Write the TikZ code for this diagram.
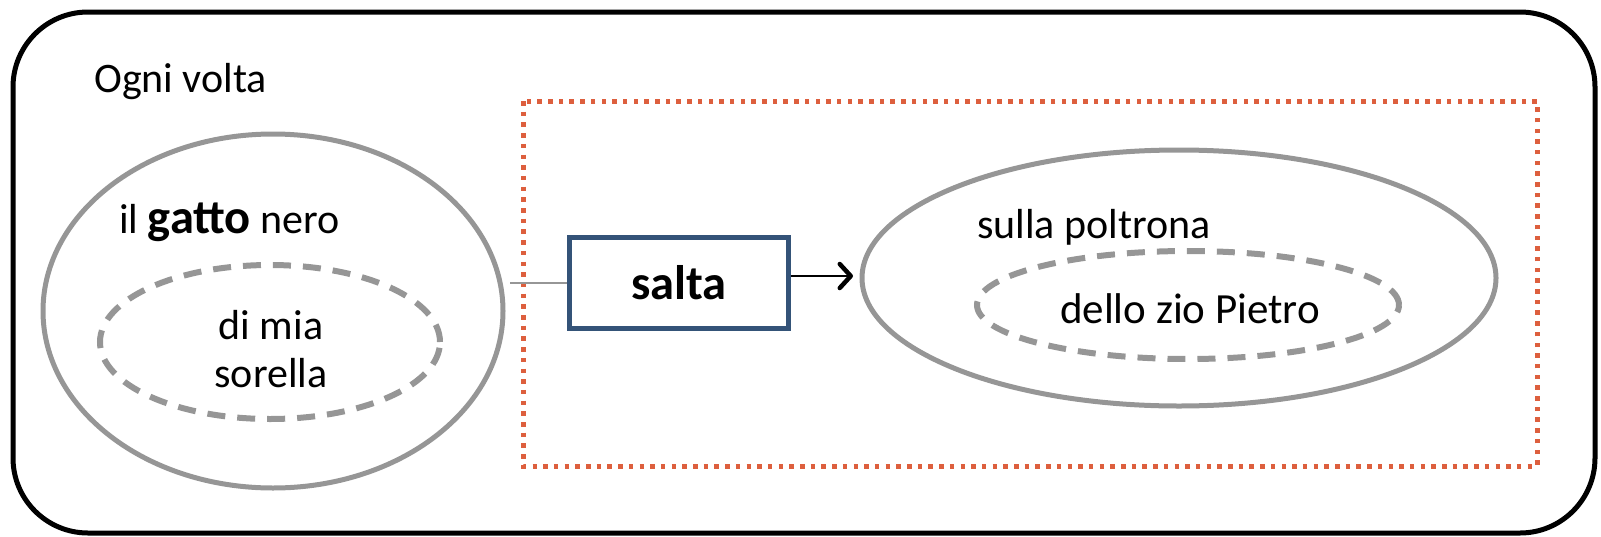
\documentclass[tikz,border=0pt]{standalone}
\usepackage{fontspec}
\setmainfont{Carlito}
\usetikzlibrary{shapes.geometric,arrows.meta}
\definecolor{cgray}{RGB}{150,150,150}
\definecolor{cred}{RGB}{221,95,62}
\definecolor{cblue}{RGB}{52,83,120}
\newcommand{\bigb}[1]{{\fontsize{48.5}{52}\selectfont\bfseries #1}}
\tikzset{
  txt/.style={inner sep=0pt, font=\fontsize{42}{48}\selectfont},
  bigell/.style={ellipse, draw=cgray, line width=5pt, inner sep=0pt},
  dashell/.style={ellipse, draw=cgray, line width=6pt, dash pattern=on 18pt off 12pt, inner sep=0pt},
  verbbox/.style={draw=cblue, line width=5pt, minimum width=219pt, minimum height=91pt, inner sep=0pt, font=\fontsize{48.5}{52}\selectfont\bfseries},
}
\begin{document}
\begin{tikzpicture}[x=1pt,y=-1pt]
\useasboundingbox (0,0) rectangle (1601,536);
% outer frame
\draw[line width=5pt, rounded corners=75pt] (13,12) rectangle (1595,533);
% red dotted frame
\draw[cred, line width=5pt, dash pattern=on 4.5pt off 6.2pt] (523,101) rectangle (1537,466);
\node[txt, anchor=west] (ogni) at (94,82) {Ogni volta};
% left group
\node[bigell, minimum width=460pt, minimum height=354pt] (lell) at (273,311) {};
\node[txt, anchor=west] (gatto) at (119,222) {il \bigb{gatto} nero};
\node[dashell, minimum width=340pt, minimum height=154pt] (ldash) at (270,342) {};
\node[txt, align=center] (sorella) at (271,349) {di mia\\sorella};
% verb
\node[verbbox] (salta) at (679,283) {salta};
% right group
\node[bigell, minimum width=634pt, minimum height=256pt] (rell) at (1179,278) {};
\node[txt, anchor=west] (poltrona) at (977,227) {sulla poltrona};
\node[dashell, minimum width=422pt, minimum height=108pt] (rdash) at (1188,305) {};
\node[txt, font=\fontsize{43}{48}\selectfont] (pietro) at (1190,309) {dello zio Pietro};
% connectors
\coordinate (lstart) at (510,283);
\draw[cgray, line width=2.5pt] (lstart) -- (salta.west |- lstart);
\coordinate (aend) at (853,276);
\draw[line width=2.8pt, -{Straight Barb[length=11pt,width=24pt,line width=4.5pt,round]}] (salta.east |- aend) -- (aend);
\end{tikzpicture}
\end{document}
